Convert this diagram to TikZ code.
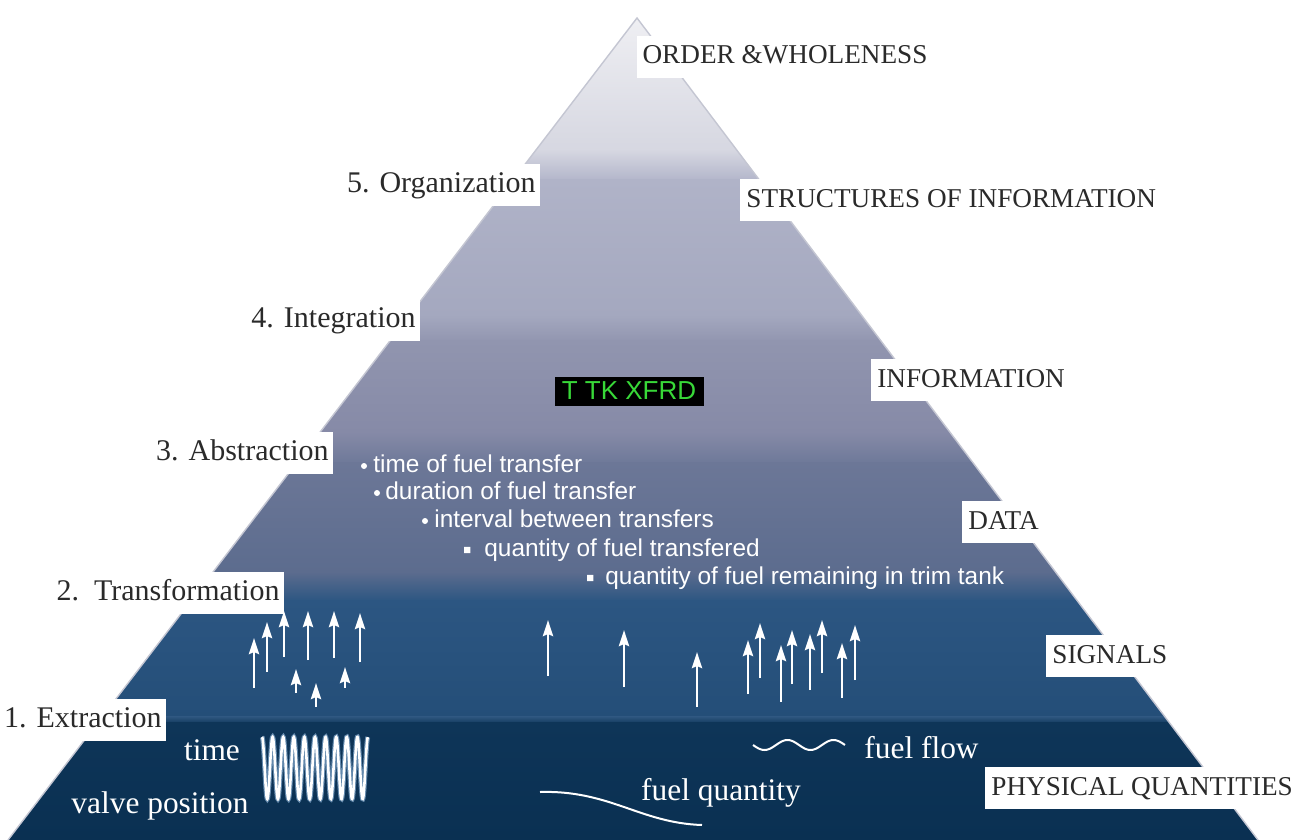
\documentclass[tikz,border=0pt]{standalone}
\usepackage{fontspec}
\setmainfont{Liberation Serif}
\newfontfamily\listfont{Liberation Sans}
\usepackage{xcolor}
\usetikzlibrary{arrows.meta,positioning}
\definecolor{labelgray}{HTML}{2A2A2A}
\definecolor{edgegray}{HTML}{C4C6D2}
\definecolor{xfrdgreen}{HTML}{38D838}
\definecolor{wavebl}{HTML}{9CC2E6}
\tikzset{
	leftlabel/.style={
			fill=white, anchor=east, inner xsep=2pt, inner ysep=0pt,
			minimum height=21pt, text height=10pt, text depth=3pt,
			text=labelgray, font=\fontsize{15}{18}\selectfont},
	caplabel/.style={
			fill=white, anchor=west, inner xsep=3pt, inner ysep=0pt,
			minimum height=21pt, text height=10pt, text depth=3pt,
			text=labelgray, font=\fontsize{13.6}{16}\selectfont},
	bandtext/.style={
			text=white, inner sep=0pt, font=\fontsize{15.7}{18}\selectfont},
	datatext/.style={
			text=white, inner sep=0pt, anchor=west, text height=9pt, text depth=2.5pt,
			font=\listfont\fontsize{12.2}{14}\selectfont},
	signal/.style={
			draw=white, line width=1.4pt, -{Stealth[length=8pt,width=5pt,inset=1pt]}},
	wave/.style={white, line width=1pt}
}

\begin{document}
\begin{tikzpicture}[x=0.5pt,y=-0.5pt]
		\useasboundingbox (0,0) rectangle (1307,840);
		\fill [white] (0,0) rectangle (1307,840);

		\coordinate (apex) at (637,18);
		\coordinate (bl) at (8,840);
		\coordinate (br) at (1258,840);

		% the bands of the pyramid
		\begin{scope}
			\clip (apex) -- (br) -- (bl) -- cycle;
			\shade [top color={rgb,255:red,242;green,242;blue,245}, bottom color={rgb,255:red,214;green,215;blue,225}]	(0,0) rectangle (1307,151);
			\shade [top color={rgb,255:red,214;green,215;blue,225}, bottom color={rgb,255:red,178;green,181;blue,202}]	(0,150) rectangle (1307,181);
			\shade [top color={rgb,255:red,176;green,179;blue,200}, bottom color={rgb,255:red,164;green,168;blue,191}]	(0,180) rectangle (1307,316);
			\shade [top color={rgb,255:red,164;green,168;blue,191}, bottom color={rgb,255:red,146;green,150;blue,176}]	(0,315) rectangle (1307,341);
			\shade [top color={rgb,255:red,145;green,149;blue,175}, bottom color={rgb,255:red,134;green,138;blue,167}]	(0,340) rectangle (1307,433);
			\shade [top color={rgb,255:red,134;green,138;blue,167}, bottom color={rgb,255:red,110;green,121;blue,153}]	(0,432) rectangle (1307,463);
			\shade [top color={rgb,255:red,108;green,119;blue,151}, bottom color={rgb,255:red,92;green,108;blue,142}]	(0,462) rectangle (1307,573);
			\shade [top color={rgb,255:red,92;green,108;blue,142}, bottom color={rgb,255:red,44;green,86;blue,130}]	(0,572) rectangle (1307,601);
			\shade [top color={rgb,255:red,44;green,86;blue,130}, bottom color={rgb,255:red,36;green,78;blue,120}]	(0,600) rectangle (1307,717);
			\shade [top color={rgb,255:red,48;green,88;blue,130}, bottom color={rgb,255:red,20;green,60;blue,96}]	(0,716) rectangle (1307,723);
			\shade [top color={rgb,255:red,14;green,53;blue,88}, bottom color={rgb,255:red,10;green,48;blue,82}]	(0,722) rectangle (1307,840);
		\end{scope}
		\draw [edgegray, line width=0.7pt] (bl) -- (apex) -- (br);

		% level names on the left
		\node [leftlabel] (organization)	at (540,185) {5. Organization};
		\node [leftlabel] (integration)	at (420,320) {4. Integration};
		\node [leftlabel] (abstraction)	at (333,453) {3. Abstraction};
		\node [leftlabel] (transformation)	at (284,593) {2.\ \ Transformation};
		\node [leftlabel] (extraction)	at (166,720) {1. Extraction};

		% level contents on the right
		\node [caplabel, anchor=center] (wholeness) at (785,57) {ORDER \&WHOLENESS};
		\node [caplabel] (structures)	at (740,200) {STRUCTURES OF INFORMATION};
		\node [caplabel] (information)	at (871,380) {INFORMATION};
		\node [caplabel] (data)	at (962,522) {DATA};
		\node [caplabel] (signals)	at (1046,656) {SIGNALS};
		\node [caplabel] (physical)	at (985,788) {PHYSICAL QUANTITIES};

		% display message
		\node [fill=black, text=xfrdgreen, inner sep=0pt, minimum width=74.5pt, minimum height=14.5pt,
			font=\listfont\fontsize{13}{15}\selectfont] (xfrd) at (629,391) {T TK XFRD};

		% data items
		\node [datatext] (d1) at (373,466) {time of fuel transfer};
		\node [datatext] (d2) at (385,493) {duration of fuel transfer};
		\node [datatext] (d3) at (434,521) {interval between transfers};
		\node [datatext] (d4) at (484,550) {quantity of fuel transfered};
		\node [datatext] (d5) at (605,578) {quantity of fuel remaining in trim tank};
		\fill [white]	([xshift=-4.5pt]d1.west) circle (1.5pt)
						([xshift=-4pt]d2.west) circle (1.5pt)
						([xshift=-4.5pt]d3.west) circle (1.5pt);
		\fill [white]	([xshift=-10pt,yshift=-1.6pt]d4.west) rectangle ++(3.2pt,3.2pt)
						([xshift=-9pt,yshift=-1.6pt]d5.west) rectangle ++(3.2pt,3.2pt);

		% signals
		\draw [signal]	(254,688) -- (254,638);
		\draw [signal]	(267,672) -- (267,622);
		\draw [signal]	(284,657) -- (284,611);
		\draw [signal]	(308,660) -- (308,611);
		\draw [signal]	(334,658) -- (334,611);
		\draw [signal]	(360,662) -- (360,613);
		\draw [signal]	(296,693) -- (296,669);
		\draw [signal]	(316,707) -- (316,683);
		\draw [signal]	(345,688) -- (345,667);
		\draw [signal]	(548,676) -- (548,620);
		\draw [signal]	(624,687) -- (624,630);
		\draw [signal]	(697,707) -- (697,652);
		\draw [signal]	(748,694) -- (748,640);
		\draw [signal]	(760,678) -- (760,623);
		\draw [signal]	(781,702) -- (781,645);
		\draw [signal]	(792,684) -- (792,630);
		\draw [signal]	(810,690) -- (810,634);
		\draw [signal]	(822,673) -- (822,620);
		\draw [signal]	(842,698) -- (842,643);
		\draw [signal]	(855,680) -- (855,625);

		% physical quantities
		\node [bandtext] (time)	at (212,750) {time};
		\node [bandtext] (valve)	at (160,806) {valve position};
		\node [bandtext, anchor=west] (flow)	at (864,748) {fuel flow};
		\node [bandtext] (quantity)	at (721,793) {fuel quantity};

		\draw [wavebl, line width=2.4pt, opacity=0.6] plot [domain=0:1, samples=400] ({262+106*\x},{768-31*cos(3600*\x)});
		\draw [wave, line width=1.3pt] plot [domain=0:1, samples=400] ({262+106*\x},{768-31*cos(3600*\x)});
		\draw [wave] plot [domain=0:1, samples=80] ({753+92*\x},{745+5*sin(720*\x)});
		\draw [wave] (540,792) .. controls (610,790) and (640,823) .. (702,825);
	\end{tikzpicture}
\end{document}
